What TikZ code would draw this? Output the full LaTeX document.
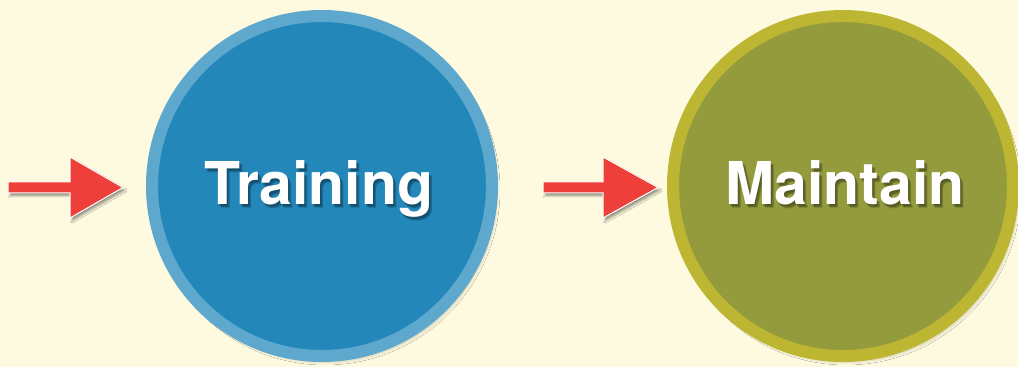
\documentclass[tikz,border=0pt]{standalone}
\usepackage{fontspec}
\setmainfont{TeX Gyre Heros}
\usetikzlibrary{shadows.blur}
\definecolor{bg}{HTML}{FEFADF}
\definecolor{bluefill}{HTML}{2387BA}
\definecolor{bluering}{HTML}{5EA8CE}
\definecolor{olivefill}{HTML}{939B3D}
\definecolor{olivering}{HTML}{BDB632}
\definecolor{arrowred}{HTML}{EE3F3A}
\tikzset{
  stage/.style={circle, inner sep=0pt, minimum size=340pt, line width=12pt,
    blur shadow={shadow xshift=3pt, shadow yshift=-4pt, shadow blur steps=8, shadow blur radius=5pt, shadow opacity=35}},
  bigarrow/.style={fill=arrowred, draw=white, line width=1pt, line join=miter,
    blur shadow={shadow xshift=2pt, shadow yshift=-3pt, shadow blur steps=5, shadow blur radius=2pt, shadow opacity=40}},
  lbl/.style={anchor=base, text=white, font=\bfseries\fontsize{59}{60}\selectfont, inner sep=0pt},
  lblshadow/.style={anchor=base, text=black, opacity=0.12, font=\bfseries\fontsize{59}{60}\selectfont, inner sep=0pt},
}
\begin{document}
\begin{tikzpicture}[x=1pt,y=1pt]
\fill[bg] (0,0) rectangle (1018,367);
\useasboundingbox (0,0) rectangle (1018,367);
% circles
\node[stage, draw=bluering, fill=bluefill] (training) at (322,181) {};
\node[stage, draw=olivering, fill=olivefill] (maintain) at (843,181) {};
% label shadows
\foreach \dx/\dy in {2/-3,3/-4,1/-2,3/-3}{
  \node[lblshadow] at (319+\dx,162+\dy) {Training};
  \node[lblshadow] at (845+\dx,162+\dy) {Maintain};
}
\node[lbl] (tlabel) at (319,162) {Training};
\node[lbl] (mlabel) at (845,162) {Maintain};
% arrows
\coordinate (a1) at (8,179.5);
\draw[bigarrow] (a1) ++(0,5.5) -- ++(62,0) -- ++(0,25) -- (123,179.5) -- (70,149) -- ++(0,25) -- (8,174) -- cycle;
\coordinate (a2) at (543,179.5);
\draw[bigarrow] (a2) ++(0,5.5) -- ++(60,0) -- ++(0,25) -- (658,179.5) -- (603,149) -- ++(0,25) -- (543,174) -- cycle;
\end{tikzpicture}
\end{document}
